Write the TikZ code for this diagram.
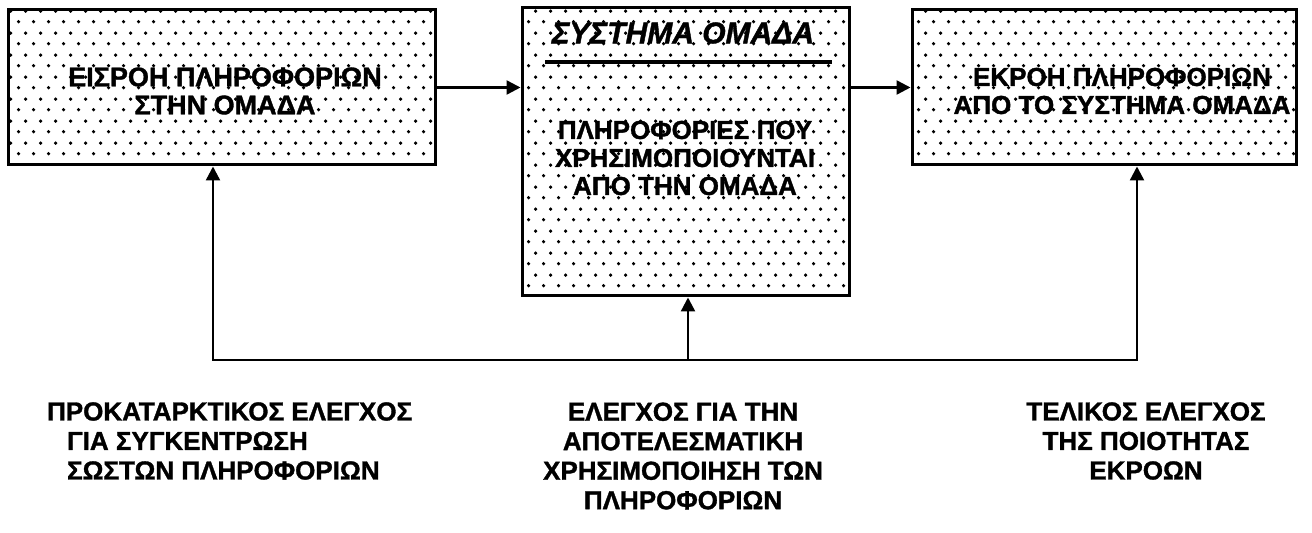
\documentclass[tikz,border=0pt]{standalone}
\usepackage{fontspec}
\setmainfont{Liberation Sans}[BoldFeatures={FakeBold=1.3}, BoldItalicFeatures={FakeBold=1.3}]
\usepackage{tikz}
\usetikzlibrary{arrows.meta, positioning, calc, patterns.meta}

\tikzdeclarepattern{
  name=paperdots,
  type=uncolored,
  bottom left={(0pt,0pt)},
  top right={(7.5pt,11pt)},
  tile size={(7.5pt,11pt)},
  code={
    \fill (1.9pt,2.75pt) circle (0.95pt);
    \fill (5.65pt,8.25pt) circle (0.95pt);
  }
}

\tikzset{
  infobox/.style={draw, line width=1.5pt, pattern=paperdots, pattern color=black, minimum height=77.5pt},
  boxtext/.style={font=\bfseries\fontsize{13}{14}\selectfont, align=center},
  checktext/.style={font=\bfseries\fontsize{13}{14.75}\selectfont},
  flowtip/.style={line width=1.2pt, -{Triangle[length=7pt,width=7pt]}},
}

\begin{document}
\begin{tikzpicture}[x=0.5pt, y=-0.5pt]
\useasboundingbox (0,0) rectangle (1312,533);

% Boxes
\node[infobox, minimum width=213.5pt] (inflow) at (221.5,87.5) {};
\node[boxtext, font=\bfseries\fontsize{13.5}{14}\selectfont] (inflowtext) at (225,91) {ΕΙΣΡΟΗ ΠΛΗΡΟΦΟΡΙΩΝ\\ΣΤΗΝ ΟΜΑΔΑ};

\node[infobox, minimum width=163.5pt, minimum height=144pt] (group) at (685.5,152) {};
\node[boxtext, font=\bfseries\itshape\fontsize{15}{16}\selectfont] (grouptitle) at (683,33) {ΣΥΣΤΗΜΑ ΟΜΑΔΑ};
\draw[line width=1.6pt] (545,62) -- (832,62);
\node[boxtext] (grouptext) at (685,158) {ΠΛΗΡΟΦΟΡΙΕΣ ΠΟΥ\\ΧΡΗΣΙΜΟΠΟΙΟΥΝΤΑΙ\\ΑΠΟ ΤΗΝ ΟΜΑΔΑ};

\node[infobox, minimum width=192pt] (outflow) at (1104,87.5) {};
\node[boxtext] (outflowtext) at (1122,91) {ΕΚΡΟΗ ΠΛΗΡΟΦΟΡΙΩΝ\\ΑΠΟ ΤΟ ΣΥΣΤΗΜΑ ΟΜΑΔΑ};

% Flow of information
\draw[flowtip] (inflow.east) -- (inflow.east -| group.west);
\draw[flowtip] (inflow.east -| group.east) -- (inflow.east -| outflow.west);

% Control feedback
\coordinate (fbleft) at (213,360);
\coordinate (fbmid) at (688,360);
\coordinate (fbright) at (1137,360);
\draw[line width=1.2pt, {Triangle[length=7pt,width=7pt]}-{Triangle[length=7pt,width=7pt]}]
  (fbleft |- inflow.south) -- (fbleft) -- (fbright) -- (fbright |- outflow.south);
\draw[flowtip] (fbmid) -- (fbmid |- group.south);

% Control labels
\node[checktext, anchor=west, align=left] (precheck) at (40,441)
  {ΠΡΟΚΑΤΑΡΚΤΙΚΟΣ ΕΛΕΓΧΟΣ\\\hspace*{10pt}ΓΙΑ ΣΥΓΚΕΝΤΡΩΣΗ\\\hspace*{10pt}ΣΩΣΤΩΝ ΠΛΗΡΟΦΟΡΙΩΝ};
\node[checktext, align=center] (usecheck) at (683,456)
  {ΕΛΕΓΧΟΣ ΓΙΑ ΤΗΝ\\ΑΠΟΤΕΛΕΣΜΑΤΙΚΗ\\ΧΡΗΣΙΜΟΠΟΙΗΣΗ ΤΩΝ\\ΠΛΗΡΟΦΟΡΙΩΝ};
\node[checktext, align=center] (finalcheck) at (1146,441)
  {ΤΕΛΙΚΟΣ ΕΛΕΓΧΟΣ\\ΤΗΣ ΠΟΙΟΤΗΤΑΣ\\ΕΚΡΟΩΝ};
\end{tikzpicture}
\end{document}
